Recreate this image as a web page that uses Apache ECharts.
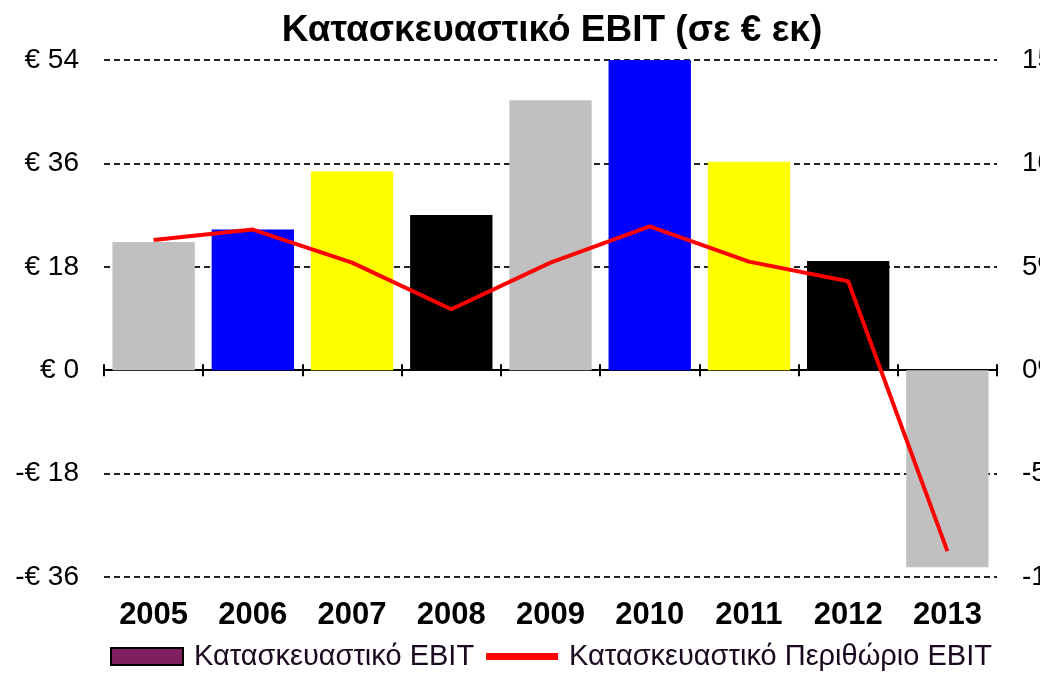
<!DOCTYPE html>
<html>
<head>
<meta charset="utf-8">
<script src="https://cdn.jsdelivr.net/npm/echarts@6/dist/echarts.min.js"></script>
<style>html,body{margin:0;padding:0;background:#fff}#c{width:1040px;height:674px}</style>
</head>
<body>
<div id="c"></div>
<script>
const titleText = 'Κατασκευαστικό EBIT (σε € εκ)';
const years = ['2005','2006','2007','2008','2009','2010','2011','2012','2013'];
const ebit = [22.3, 24.5, 34.6, 27.0, 47.0, 54.4, 36.3, 19.0, -34.3];
const ebitColors = ['#C0C0C0','#0000FF','#FFFF00','#000000','#C0C0C0','#0000FF','#FFFF00','#000000','#C0C0C0'];
const margin = [6.3, 6.8, 5.2, 2.95, 5.2, 6.95, 5.25, 4.3, -8.75];
const leftTicks = {min: -36, max: 54, interval: 18};
const rightTicks = {min: -10, max: 15, interval: 5};
const seriesNames = ['Κατασκευαστικό EBIT', 'Κατασκευαστικό Περιθώριο EBIT'];

const sans = '"Liberation Sans", Arial, sans-serif';
const chart = echarts.init(document.getElementById('c'), null, {renderer: 'canvas'});
chart.setOption({
  animation: false,
  backgroundColor: '#fff',
  graphic: [{
    type: 'text', x: 552, y: 12,
    style: {text: titleText, fill: '#000', font: 'bold 37px ' + sans, textAlign: 'center', textVerticalAlign: 'top'}
  }],
  legend: {
    bottom: -2, left: 105,
    itemGap: 12,
    itemWidth: 72, itemHeight: 17,
    textStyle: {fontFamily: sans, fontSize: 29, color: '#1a0a20', padding: [0,0,0,6]},
    data: [
      {name: seriesNames[0], icon: 'rect', itemStyle: {color: '#7F1F5F', borderColor: '#000', borderWidth: 2}},
      {name: seriesNames[1], icon: 'path://M0,0L10,0L10,1L0,1Z', itemStyle: {color: '#FF0000'}}
    ]
  },
  grid: {left: 104, right: 43, top: 60, bottom: 97, containLabel: false, outerBoundsMode: 'none'},
  xAxis: [
    {type: 'category', data: years, position: 'bottom',
     axisLine: {show: false, onZero: false}, axisTick: {show: false},
     axisLabel: {fontFamily: sans, fontWeight: 'bold', fontSize: 31, color: '#000', margin: 23}},
    {type: 'category', data: years,
     axisLine: {show: true, onZero: true, onZeroAxisIndex: 0, lineStyle: {color: '#000', width: 2}},
     axisTick: {show: true, length: 6, lineStyle: {color: '#000', width: 2}},
     axisLabel: {show: false}},
    {type: 'category', data: years,
     axisLine: {show: false, onZero: true, onZeroAxisIndex: 0},
     axisTick: {show: true, inside: true, length: 6, lineStyle: {color: '#000', width: 2}},
     axisLabel: {show: false}}
  ],
  yAxis: [
    {type: 'value', min: leftTicks.min, max: leftTicks.max, interval: leftTicks.interval,
     axisLine: {show: false}, axisTick: {show: false},
     axisLabel: {fontFamily: sans, fontSize: 28, color: '#000', margin: 25,
       formatter: v => (v < 0 ? '-€ ' + Math.abs(v) : '€ ' + v)},
     splitLine: {show: true, lineStyle: {color: '#222', width: 2, type: [6, 4]}}},
    {type: 'value', min: rightTicks.min, max: rightTicks.max, interval: rightTicks.interval, position: 'right',
     axisLine: {show: false}, axisTick: {show: false}, splitLine: {show: false},
     axisLabel: {fontFamily: sans, fontSize: 28, color: '#000', margin: 25, formatter: v => v + '%'}}
  ],
  series: [
    {name: seriesNames[0], type: 'bar', xAxisIndex: 0, yAxisIndex: 0, barCategoryGap: '17%',
     itemStyle: {color: '#7F1F5F'},
     data: ebit.map((v, i) => ({value: v, itemStyle: {color: ebitColors[i]}}))},
    {name: seriesNames[1], type: 'line', xAxisIndex: 0, yAxisIndex: 1, symbol: 'none', z: 5,
     lineStyle: {color: '#FF0000', width: 4}, itemStyle: {color: '#FF0000'},
     data: margin}
  ]
});
</script>
</body>
</html>
